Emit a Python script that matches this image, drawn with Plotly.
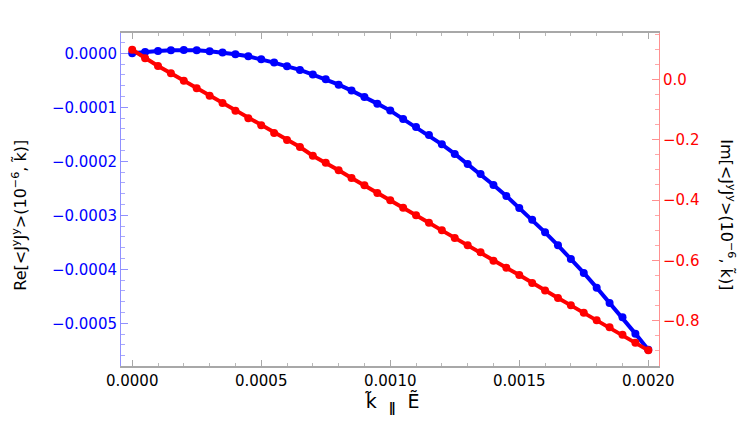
import plotly.graph_objects as go

# k parallel E, 41 samples from 0 to 0.002
k_vals = [i * 0.00005 for i in range(41)]

# Re part, left axis (blue)
re_vals = [0.0, 2.6e-6, 4.4e-6, 5.6e-6, 6.3e-6, 5.6e-6, 3.7e-6, 1.3e-6, -1.9e-6, -5.6e-6,
           -1.10e-5, -1.72e-5, -2.41e-5, -3.07e-5, -3.94e-5, -4.82e-5, -5.80e-5, -6.91e-5,
           -8.07e-5, -9.32e-5, -1.061e-4, -1.215e-4, -1.363e-4, -1.511e-4, -1.685e-4,
           -1.863e-4, -2.048e-4, -2.234e-4, -2.437e-4, -2.641e-4, -2.863e-4, -3.080e-4,
           -3.315e-4, -3.556e-4, -3.808e-4, -4.067e-4, -4.339e-4, -4.623e-4, -4.889e-4,
           -5.191e-4, -5.487e-4]

# Im part, right axis (red)
im_vals = [0.098, 0.0696, 0.0441, 0.0199, -0.0046, -0.0298, -0.0544, -0.0786, -0.1041,
           -0.1293, -0.1525, -0.1780, -0.2012, -0.2244, -0.2532, -0.2764, -0.3016, -0.3271,
           -0.3513, -0.3769, -0.4011, -0.4256, -0.4508, -0.4753, -0.5005, -0.5260, -0.5502,
           -0.5731, -0.6013, -0.6245, -0.6487, -0.6752, -0.6994, -0.7249, -0.7491, -0.7736,
           -0.7988, -0.8220, -0.8465, -0.8731, -0.8982]

BLUE = "#0000ff"
RED = "#ff0000"

fig = go.Figure()
fig.add_trace(go.Scatter(x=k_vals, y=re_vals, mode="lines+markers",
                         line=dict(color=BLUE, width=4),
                         marker=dict(color=BLUE, size=8),
                         yaxis="y", showlegend=False))
fig.add_trace(go.Scatter(x=k_vals, y=im_vals, mode="lines+markers",
                         line=dict(color=RED, width=4),
                         marker=dict(color=RED, size=8),
                         yaxis="y2", showlegend=False))

# page body has an 8px margin all round, so keep the figure inside the window
fig.update_layout(
    width=731, height=425,
    margin=dict(l=113, r=80, t=25, b=67),
    paper_bgcolor="white", plot_bgcolor="white",
    font=dict(family="DejaVu Sans", size=15, color="black"),
    xaxis=dict(range=[-0.0000434, 0.0020415], dtick=0.0005, tick0=0, tickformat=".4f",
               showgrid=False, zeroline=False, showline=True, linecolor="#a8a8a8",
               linewidth=1.5, mirror="ticks", ticks="inside", ticklen=6,
               tickcolor="#a8a8a8",
               minor=dict(dtick=0.0001, ticks="inside", ticklen=3, tickcolor="#b8b8b8")),
    yaxis=dict(range=[-0.000579, 0.0000376], dtick=0.0001, tick0=0, tickformat=".4f",
               showgrid=False, zeroline=False, showline=True, linecolor="#9090ff",
               linewidth=1, ticks="inside", ticklen=7, tickcolor="#9090ff",
               tickfont=dict(color=BLUE),
               minor=dict(dtick=0.00002, ticks="inside", ticklen=4, tickcolor="#a8a8ff")),
    yaxis2=dict(range=[-0.950, 0.1535], dtick=0.2, tick0=0, tickformat=".1f",
                overlaying="y", side="right",
                showgrid=False, zeroline=False, showline=True, linecolor="#ff9090",
                linewidth=1, ticks="inside", ticklen=7, tickcolor="#ff9090",
                tickfont=dict(color=RED),
                minor=dict(dtick=0.05, ticks="inside", ticklen=4, tickcolor="#ffa8a8")),
)

# axis titles as annotations (right one reads top to bottom)
fig.add_annotation(text="Re[&lt;J<sup>y</sup>J<sup>y</sup>&gt;(10<sup>−6</sup>, k̃)]",
                   xref="paper", yref="paper", x=-0.1885, y=0.453, showarrow=False,
                   xanchor="center", yanchor="middle",
                   textangle=-90, font=dict(size=16, color="black"))
fig.add_annotation(text="Im[&lt;J<sup>y</sup>J<sup>y</sup>&gt;(10<sup>−6</sup>, k̃)]",
                   xref="paper", yref="paper", x=1.128, y=0.453, showarrow=False,
                   xanchor="center", yanchor="middle",
                   textangle=90, font=dict(size=16, color="black"))
fig.add_annotation(text="k̃ &nbsp;<b><sub>∥</sub></b>&nbsp; Ẽ",
                   xref="paper", yref="paper", x=0.505, y=-0.111, showarrow=False,
                   xanchor="center", yanchor="middle",
                   font=dict(size=19, color="black"))

fig.write_html("out.html")
